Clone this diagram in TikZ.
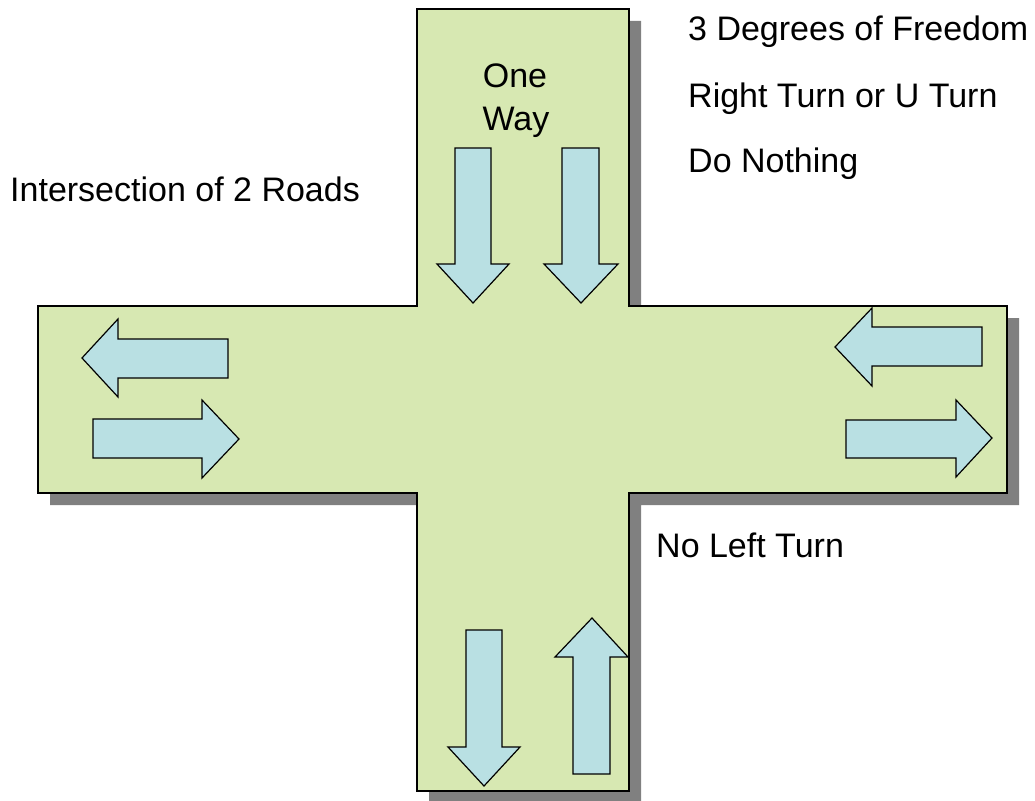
\documentclass[tikz,border=0pt]{standalone}
\usepackage{fontspec}
\setmainfont{Liberation Sans}
\definecolor{roadgreen}{RGB}{215,232,178}
\definecolor{arrowblue}{RGB}{185,224,227}
\definecolor{shadowgray}{RGB}{128,128,128}
\tikzset{
  road/.style={draw=black,fill=roadgreen,line width=1.2pt,line join=miter},
  roadshadow/.style={fill=shadowgray,draw=none},
  blockarrow/.style={draw=black,fill=arrowblue,line width=1.2pt,line join=miter},
  label/.style={anchor=base west,inner sep=0pt,font=\fontsize{34}{40}\selectfont}
}
\begin{document}
\begin{tikzpicture}[x=1pt,y=-1pt]
\useasboundingbox (0,0) rectangle (1035,800);
% shadow
\fill[roadshadow,shift={(12,12)}] (417,9) -- (629,9) -- (629,306) -- (1007,306) -- (1007,493) -- (629,493) -- (629,791) -- (417,791) -- (417,493) -- (38,493) -- (38,306) -- (417,306) -- cycle;
% crossroads
\draw[road] (417,9) -- (629,9) -- (629,306) -- (1007,306) -- (1007,493) -- (629,493) -- (629,791) -- (417,791) -- (417,493) -- (38,493) -- (38,306) -- (417,306) -- cycle;
% top arm arrows
\draw[blockarrow] (455,148) -- (491,148) -- (491,264) -- (509,264) -- (473,303) -- (437,264) -- (455,264) -- cycle;
\draw[blockarrow] (562,148) -- (599,148) -- (599,264) -- (618,264) -- (581,303) -- (544,264) -- (562,264) -- cycle;
% left arm arrows
\draw[blockarrow] (228,339) -- (228,378) -- (118,378) -- (118,397) -- (82,358) -- (118,319) -- (118,339) -- cycle;
\draw[blockarrow] (93,419) -- (202,419) -- (202,400) -- (239,439) -- (202,478) -- (202,458) -- (93,458) -- cycle;
% right arm arrows
\draw[blockarrow] (982,327) -- (982,366) -- (872,366) -- (872,386) -- (835,347) -- (872,308) -- (872,327) -- cycle;
\draw[blockarrow] (846,420) -- (956,420) -- (956,400) -- (992,438) -- (956,477) -- (956,458) -- (846,458) -- cycle;
% bottom arm arrows
\draw[blockarrow] (466,630) -- (502,630) -- (502,747) -- (520,747) -- (484,786) -- (448,747) -- (466,747) -- cycle;
\draw[blockarrow] (573,774) -- (610,774) -- (610,657) -- (628,657) -- (592,618) -- (555,657) -- (573,657) -- cycle;
% labels
\node[label] (dof) at (688,41) {3 Degrees of Freedom};
\node[label] (rt) at (688,107) {Right Turn or U Turn};
\node[label] (dn) at (688,172) {Do Nothing};
\node[label] (inter) at (10,201) {Intersection of 2 Roads};
\node[label] (nlt) at (656,557) {No Left Turn};
\node[label,anchor=base] (one) at (515,87) {One};
\node[label,anchor=base] (way) at (516,130) {Way};
\end{tikzpicture}
\end{document}
